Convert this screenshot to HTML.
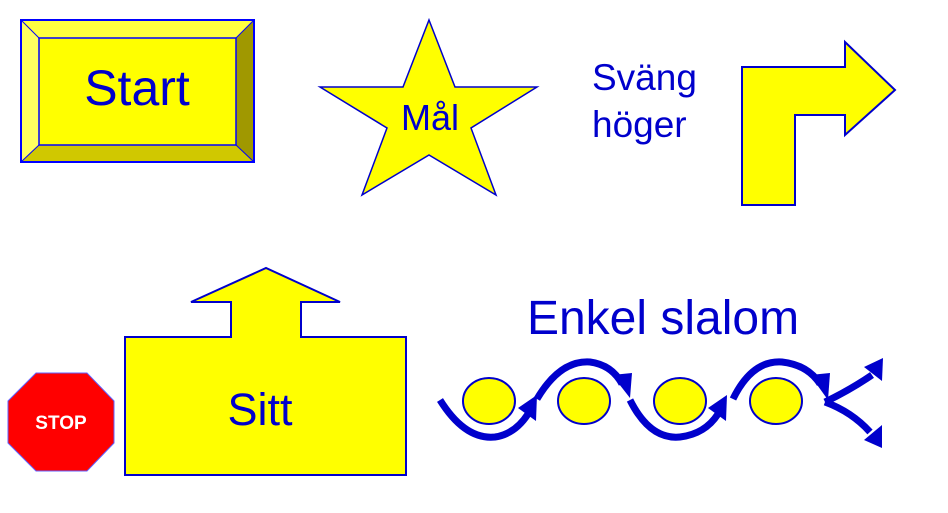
<!DOCTYPE html>
<html><head><style>body{margin:0;background:#fff}svg{display:block}</style></head><body>
<svg width="948" height="513" viewBox="0 0 948 513" xmlns="http://www.w3.org/2000/svg" font-family="Liberation Sans, sans-serif">
<!-- Start button -->
<rect x="21" y="20" width="233" height="142" fill="#ffff00"/>
<polygon points="21,20 254,20 236,38 39,38" fill="#ffff40"/>
<polygon points="21,20 39,38 39,145 21,162" fill="#ffff60"/>
<polygon points="254,20 254,162 236,145 236,38" fill="#a09800"/>
<polygon points="21,162 39,145 236,145 254,162" fill="#d0c800"/>
<rect x="21" y="20" width="233" height="142" fill="none" stroke="#0000ff" stroke-width="2"/>
<rect x="39" y="38" width="197" height="107" fill="none" stroke="#0000ff" stroke-width="1.5"/>
<line x1="21" y1="20" x2="39" y2="38" stroke="#0000ff"/><line x1="254" y1="20" x2="236" y2="38" stroke="#0000ff"/>
<line x1="21" y1="162" x2="39" y2="145" stroke="#0000ff"/><line x1="254" y1="162" x2="236" y2="145" stroke="#0000ff"/>
<text x="137" y="105" font-size="50" fill="#0000cc" text-anchor="middle">Start</text>
<!-- Star -->
<polygon points="429,20 455,87 537,87 471,128 496,195 429,155 362,195 387,128 320,87 403,87" fill="#ffff00" stroke="#0000cc" stroke-width="1.5"/>
<text x="430" y="130" font-size="36" fill="#0000cc" text-anchor="middle">Mål</text>
<!-- Turn right -->
<text x="592" y="90" font-size="37" fill="#0000cc">Sväng</text>
<text x="592" y="137" font-size="37" fill="#0000cc">höger</text>
<polygon points="742,205 742,67 845,67 845,42 895,90 845,135 845,115 795,115 795,205" fill="#ffff00" stroke="#0000cc" stroke-width="2"/>
<!-- Stop -->
<polygon points="36,373 87,373 114,401 114,443 87,471 36,471 8,443 8,401" fill="#ff0000" stroke="#6060ff" stroke-width="1"/>
<text x="61" y="429" font-size="19" font-weight="bold" fill="#fff" text-anchor="middle">STOP</text>
<!-- Sitt -->
<polygon points="125,475 125,337 231,337 231,302 191,302 266,268 340,302 301,302 301,337 406,337 406,475" fill="#ffff00" stroke="#0000cc" stroke-width="2"/>
<text x="260" y="425" font-size="45" fill="#0000cc" text-anchor="middle">Sitt</text>
<!-- Slalom -->
<text x="663" y="334" font-size="48" fill="#0000cc" text-anchor="middle">Enkel slalom</text>
<g fill="#ffff00" stroke="#0000cc" stroke-width="2">
<ellipse cx="489" cy="401" rx="26" ry="23"/><ellipse cx="584" cy="401" rx="26" ry="23"/>
<ellipse cx="680" cy="401" rx="26" ry="23"/><ellipse cx="776" cy="401" rx="26" ry="23"/>
</g>
<g fill="none" stroke="#0000cc" stroke-width="7">
<path d="M440,400 Q465,440 495,437 Q515,434 528,414"/>
<path d="M537,399 Q560,360 590,362 Q612,365 622,384"/>
<path d="M630,400 Q650,440 680,437 Q705,434 718,414"/>
<path d="M733,399 Q752,360 782,362 Q808,365 820,384"/>
<path d="M825,402 Q850,390 872,375"/>
<path d="M825,402 Q852,412 870,432"/>
</g>
<g fill="#0000cc">
<polygon points="537,395 536,421 518,408"/>
<polygon points="612,375 632,373 630,398"/>
<polygon points="727,395 726,421 708,408"/>
<polygon points="810,375 830,373 828,400"/>
<polygon points="864,367 883,358 882,381"/>
<polygon points="864,440 882,425 882,448"/>
</g>
</svg>
</body></html>
